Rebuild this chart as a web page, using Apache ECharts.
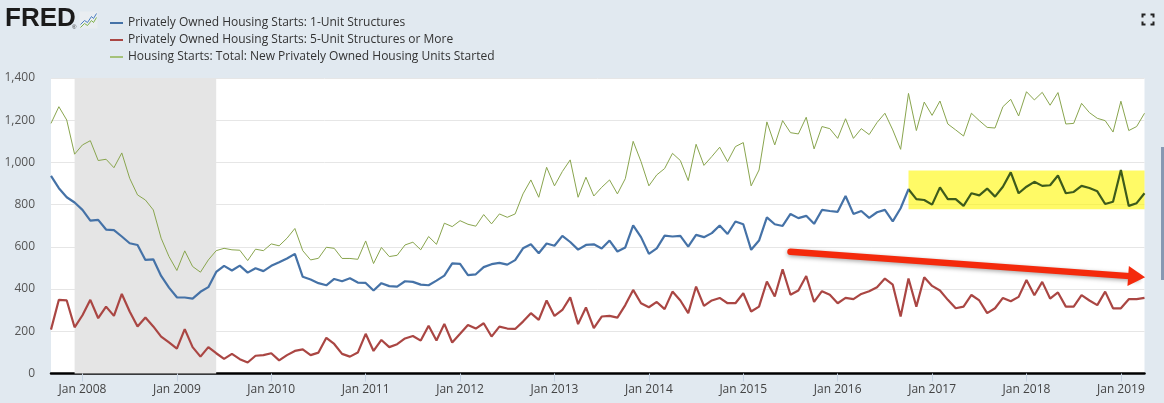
<!doctype html>
<html>
<head>
<meta charset="utf-8">
<script src="https://cdn.jsdelivr.net/npm/echarts@6/dist/echarts.min.js"></script>
<style>
    html, body {margin: 0; padding: 0; background: #e1e9f0;}
    #chart {width: 1164px; height: 403px;}
</style>
</head>
<body>
<div id="chart"></div>
<script>
    // monthly, Sep 2007 .. Apr 2019 (thousands of units, SAAR)
    var startYear = 2007, startMonth = 9, monthCount = 140;
    var monthNames = ['Jan', 'Feb', 'Mar', 'Apr', 'May', 'Jun', 'Jul', 'Aug', 'Sep', 'Oct', 'Nov', 'Dec'];

    var months = [];
    for (var i = 0; i < monthCount; i++) {
        var m = startMonth - 1 + i;
        var y = startYear + Math.floor(m / 12);
        var mm = m % 12 + 1;
        months.push(y + '-' + (mm < 10 ? '0' + mm : mm));
    }

    var oneUnit = [
        936, 878, 835, 810, 775, 724, 728, 682, 679, 649,
        617, 609, 538, 541, 462, 407, 361, 360, 355, 387,
        409, 481, 510, 488, 511, 478, 499, 485, 510, 527,
        545, 567, 458, 445, 428, 418, 448, 437, 451, 431,
        429, 393, 428, 414, 412, 437, 434, 421, 418, 440,
        464, 522, 519, 466, 470, 504, 518, 524, 516, 537,
        593, 612, 570, 616, 605, 652, 623, 587, 609, 612,
        592, 630, 578, 597, 702, 646, 567, 593, 653, 649,
        652, 601, 657, 646, 665, 701, 661, 720, 707, 586,
        630, 740, 707, 699, 756, 736, 747, 709, 775, 770,
        766, 841, 756, 770, 737, 764, 775, 721, 783, 873,
        826, 822, 800, 882, 826, 826, 794, 854, 844, 876,
        838, 885, 953, 854, 885, 908, 889, 892, 938, 854,
        860, 889, 879, 863, 803, 814, 964, 794, 807, 854
    ];
    var fivePlus = [
        208, 349, 346, 219, 276, 349, 262, 317, 273, 377,
        294, 223, 265, 223, 175, 147, 118, 210, 125, 80,
        125, 96, 69, 93, 68, 52, 84, 87, 96, 62,
        87, 107, 114, 87, 99, 169, 140, 93, 80, 99,
        188, 107, 159, 125, 139, 166, 178, 156, 226, 156,
        235, 147, 188, 230, 213, 238, 175, 222, 213, 211,
        246, 286, 254, 346, 273, 301, 361, 234, 313, 215,
        270, 273, 265, 324, 396, 333, 314, 339, 305, 388,
        346, 286, 412, 320, 346, 358, 333, 333, 380, 294,
        317, 436, 365, 494, 373, 393, 462, 339, 390, 373,
        333, 358, 352, 377, 390, 409, 450, 421, 270, 450,
        317, 456, 415, 393, 349, 309, 317, 372, 346, 286,
        309, 358, 342, 363, 443, 371, 434, 355, 384, 317,
        317, 371, 346, 324, 388, 309, 309, 352, 352, 358
    ];
    var totalStarts = [
        1185, 1264, 1201, 1039, 1083, 1103, 1009, 1015, 975, 1045,
        925, 846, 822, 775, 641, 554, 488, 581, 507, 480,
        538, 582, 593, 586, 584, 535, 589, 582, 614, 605,
        641, 687, 582, 538, 546, 598, 593, 545, 545, 541,
        628, 521, 597, 554, 560, 609, 622, 586, 649, 612,
        712, 696, 724, 707, 698, 753, 709, 756, 740, 756,
        851, 917, 835, 977, 889, 957, 1012, 835, 930, 841,
        882, 917, 851, 923, 1100, 1004, 889, 941, 971, 1043,
        1009, 914, 1086, 986, 1028, 1072, 1004, 1075, 1094, 889,
        964, 1192, 1083, 1198, 1141, 1135, 1214, 1064, 1170, 1160,
        1114, 1207, 1114, 1160, 1132, 1189, 1233, 1154, 1062, 1327,
        1151, 1286, 1223, 1291, 1182, 1154, 1125, 1233, 1198, 1166,
        1163, 1264, 1299, 1220, 1335, 1296, 1332, 1271, 1331, 1182,
        1185, 1280, 1236, 1209, 1198, 1144, 1290, 1151, 1170, 1233
    ];

    var seriesNames = [
        'Privately Owned Housing Starts: 1-Unit Structures',
        'Privately Owned Housing Starts: 5-Unit Structures or More',
        'Housing Starts: Total: New Privately Owned Housing Units Started'
    ];

    // annotations
    var recession = ['2007-12', '2009-06'];
    var highlightBox = [['2016-10', 778], ['2019-04', 962]];
    var highlightFrom = 108.9; // month index where the yellow box starts
    var trendArrow = [['2015-07', 577], ['2019-03', 459]];

    var yTicks = {min: 0, max: 1400, step: 200};

    var isJan = function (idx) {
        return months[idx].slice(5) === '01';
    };

    // blue line turns dark green where it sits under the yellow box
    var cut = highlightFrom / (monthCount - 1);
    var oneUnitStroke = new echarts.graphic.LinearGradient(0, 0, 1, 0, [
        {offset: 0, color: '#4572a7'},
        {offset: cut, color: '#4572a7'},
        {offset: cut, color: '#3d5b1b'},
        {offset: 1, color: '#3d5b1b'}
    ]);

    var myChart = echarts.init(document.getElementById('chart'));

    var option = {
        backgroundColor: '#e1e9f0',
        animation: false,
        textStyle: {fontFamily: 'Open Sans'},
        graphic: [
            {
                type: 'text', left: 5, top: 6,
                style: {text: 'FRED', font: '900 26px "Liberation Sans"', fill: '#1b1b1b'}
            },
            {
                type: 'text', left: 72, top: 24,
                style: {text: '®', font: '6px "Liberation Sans"', fill: '#333'}
            },
            {
                type: 'group', left: 78, top: 11,
                children: [
                    {type: 'rect', shape: {x: 0, y: 0, width: 18, height: 17}, style: {fill: '#e9edf1'}},
                    {type: 'polyline', shape: {points: [[1, 13], [5, 9], [8, 11], [12, 5], [14, 7], [17, 2]]},
                        style: {stroke: '#4a7fc0', lineWidth: 1, fill: null}},
                    {type: 'polyline', shape: {points: [[1, 16], [5, 12], [8, 14], [12, 9], [14, 11], [17, 6]]},
                        style: {stroke: '#7fb24a', lineWidth: 1, fill: null}}
                ]
            },
            {
                type: 'group', left: 1140, top: 12,
                children: [
                    {type: 'polyline', shape: {points: [[1, 4], [1, 1], [4, 1]]}, style: {stroke: '#222', lineWidth: 2, fill: null}},
                    {type: 'polyline', shape: {points: [[9, 1], [12, 1], [12, 4]]}, style: {stroke: '#222', lineWidth: 2, fill: null}},
                    {type: 'polyline', shape: {points: [[1, 8], [1, 11], [4, 11]]}, style: {stroke: '#222', lineWidth: 2, fill: null}},
                    {type: 'polyline', shape: {points: [[9, 11], [12, 11], [12, 8]]}, style: {stroke: '#222', lineWidth: 2, fill: null}}
                ]
            },
            {
                type: 'rect', left: 1161, top: 147,
                shape: {width: 3, height: 133}, style: {fill: '#8798b2'}
            }
        ],
        legend: {
            data: seriesNames,
            orient: 'vertical',
            left: 105,
            top: 11,
            icon: 'rect',
            itemWidth: 13,
            itemHeight: 2,
            itemGap: 3,
            selectedMode: false,
            textStyle: {fontSize: 12, color: '#333', fontFamily: 'Open Sans', lineHeight: 14}
        },
        grid: {
            left: 51,
            right: 19.5,
            top: 78,
            bottom: 29.5,
            show: true,
            backgroundColor: '#fff',
            borderWidth: 0
        },
        xAxis: {
            type: 'category',
            boundaryGap: false,
            data: months,
            axisLine: {lineStyle: {color: '#000', width: 2.5}},
            axisTick: {
                show: true,
                interval: function (idx) { return isJan(idx); },
                length: 8,
                lineStyle: {color: '#c6d3e3'}
            },
            axisLabel: {
                interval: function (idx) { return isJan(idx); },
                margin: 10,
                color: '#444',
                fontSize: 12,
                fontFamily: 'Open Sans',
                formatter: function (val) {
                    return monthNames[parseInt(val.slice(5), 10) - 1] + ' ' + val.slice(0, 4);
                }
            },
            splitLine: {show: false}
        },
        yAxis: {
            type: 'value',
            min: yTicks.min,
            max: yTicks.max,
            interval: yTicks.step,
            axisLine: {show: false},
            axisTick: {show: false},
            axisLabel: {
                margin: 16,
                color: '#555',
                fontSize: 12,
                fontFamily: 'Open Sans',
                formatter: function (v) { return v.toLocaleString('en-US'); }
            },
            splitLine: {lineStyle: {color: '#e6e6e6', width: 1}}
        },
        series: [
            {
                name: seriesNames[0],
                type: 'line',
                data: oneUnit,
                showSymbol: false,
                symbol: 'none',
                z: 3,
                itemStyle: {color: '#4572a7'},
                lineStyle: {width: 2.2, color: oneUnitStroke}
            },
            {
                name: seriesNames[1],
                type: 'line',
                data: fivePlus,
                showSymbol: false,
                symbol: 'none',
                z: 3,
                itemStyle: {color: '#aa4643'},
                lineStyle: {width: 2.2, color: '#aa4643'}
            },
            {
                name: seriesNames[2],
                type: 'line',
                data: totalStarts,
                showSymbol: false,
                symbol: 'none',
                z: 3,
                itemStyle: {color: '#a5c27a'},
                lineStyle: {width: 1, color: '#89a54e'}
            },
            {
                // shaded areas under the lines
                type: 'line',
                data: [],
                z: 1,
                silent: true,
                markArea: {
                    silent: true,
                    data: [
                        [{xAxis: recession[0], itemStyle: {color: '#e5e5e5'}}, {xAxis: recession[1]}],
                        [
                            {coord: highlightBox[0], itemStyle: {color: 'rgba(255,246,0,0.6)'}},
                            {coord: highlightBox[1]}
                        ]
                    ]
                }
            },
            {
                // the red trend arrow drawn on top
                type: 'line',
                data: [],
                z: 10,
                silent: true,
                markLine: {
                    silent: true,
                    symbol: ['none', 'triangle'],
                    label: {show: false},
                    lineStyle: {
                        color: '#f42a0c',
                        width: 6.5,
                        type: 'solid',
                        cap: 'round',
                        shadowBlur: 4,
                        shadowColor: 'rgba(0,0,0,0.35)',
                        shadowOffsetY: 1.5
                    },
                    data: [
                        [
                            {coord: trendArrow[0], symbol: 'none'},
                            {coord: trendArrow[1], symbol: 'triangle', symbolSize: [20, 17]}
                        ]
                    ]
                }
            }
        ]
    };

    myChart.setOption(option);
    window.addEventListener('resize', function () {
        myChart.resize();
    });
</script>
</body>
</html>
